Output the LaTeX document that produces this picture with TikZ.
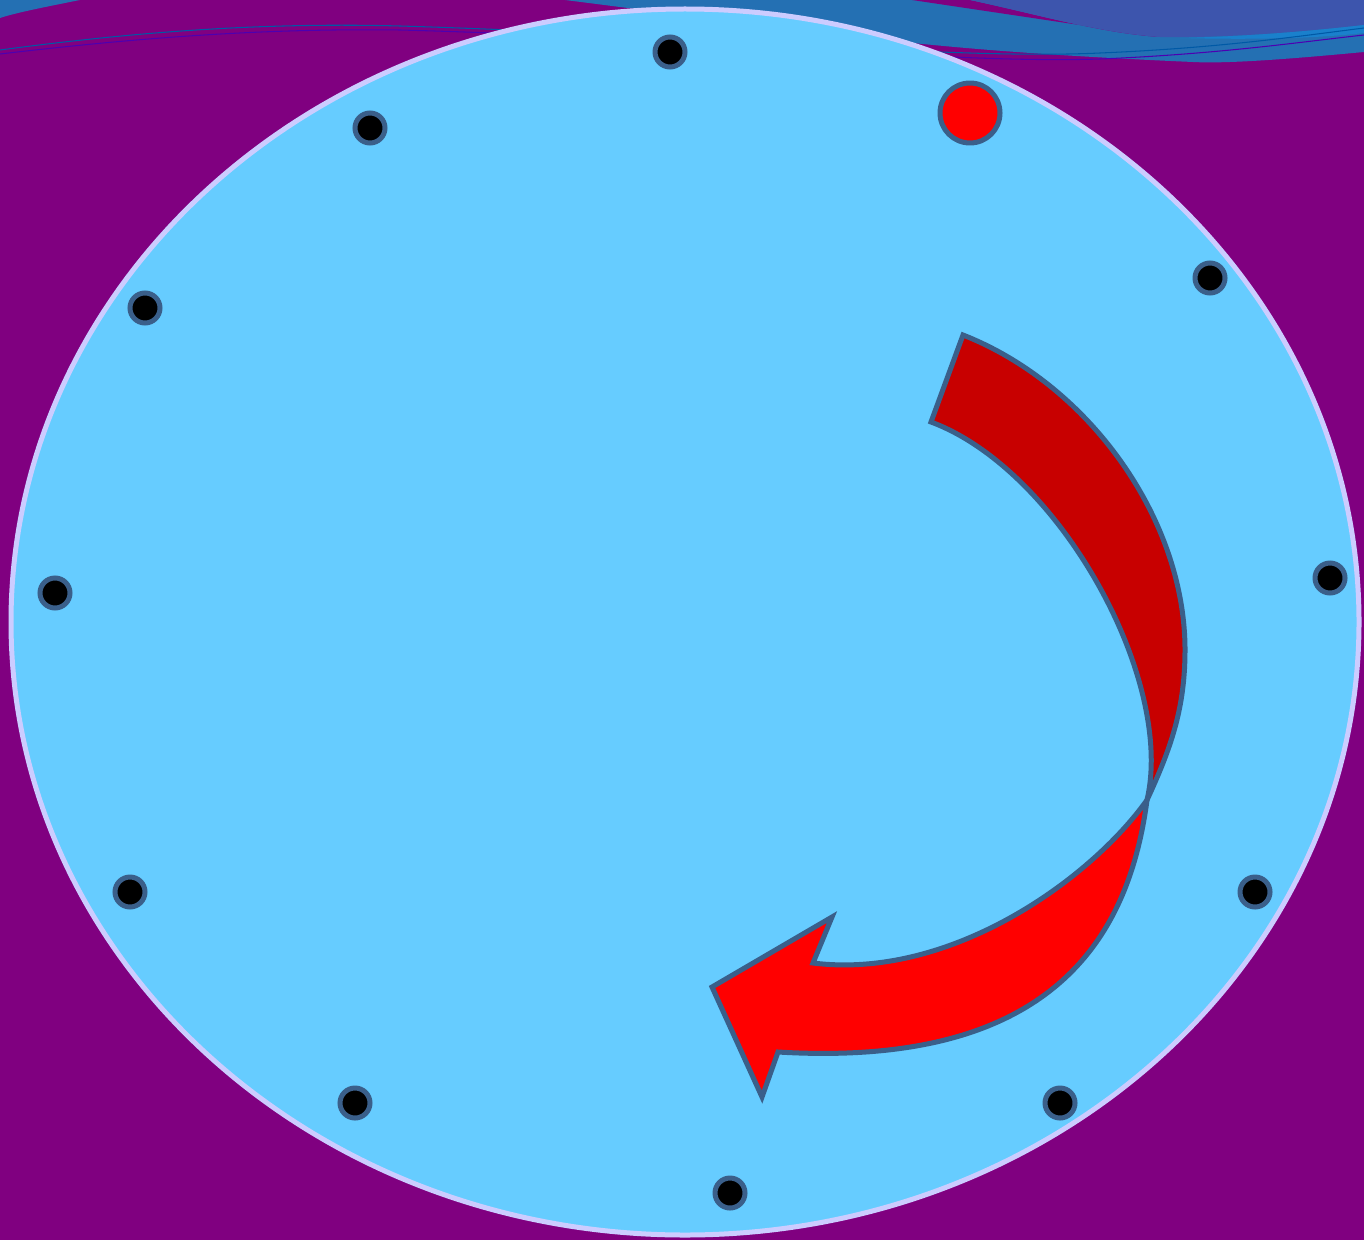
\documentclass[tikz,border=0pt]{standalone}
\usepackage{xcolor}
\usepackage{tikz}
\usetikzlibrary{shapes,arrows,positioning,calc}

\definecolor{plum}{HTML}{800080}
\definecolor{dial}{HTML}{66CCFF}
\definecolor{rim}{HTML}{CCCCFF}
\definecolor{edge}{HTML}{3A5F8A}
\definecolor{darkred}{HTML}{C80000}
\definecolor{wave}{HTML}{2470B3}
\definecolor{wavetop}{HTML}{3D55AD}
\definecolor{wavelight}{HTML}{1A80CC}

\begin{document}
\begin{tikzpicture}[
    x=0.02cm, y=-0.02cm,
    dot/.style={circle, minimum size=0.6cm, inner sep=0pt, draw=edge, line width=0.1cm, fill=black},
    reddot/.style={circle, minimum size=1.2cm, inner sep=0pt, draw=edge, line width=0.1cm, fill=red},
    ribbon/.style={draw=edge, line width=0.1cm, line join=miter}
]

% page and background
\useasboundingbox (0,0) rectangle (1364,1240);
\fill[plum] (0,0) rectangle (1364,1240);

% waves at the top
\fill[wave] (0,0) -- (80,0) .. controls (40,8) and (15,13) .. (0,18) -- cycle;
\fill[wave] (565,0) -- (1364,0) -- (1364,52) .. controls (1300,58) and (1230,64) .. (1193,62)
    .. controls (1100,58) and (1000,52) .. (913,43) .. controls (780,28) and (660,12) .. (565,0) -- cycle;
\fill[plum] (912,0) -- (970,0) .. controls (1040,15) and (1100,33) .. (1160,37) -- cycle;
\fill[wavetop] (970,0) -- (1364,0) -- (1364,25) .. controls (1300,32) and (1230,38) .. (1160,37)
    .. controls (1100,33) and (1040,15) .. (970,0) -- cycle;
\fill[wavelight] (1180,38) .. controls (1260,36) and (1320,30) .. (1364,25) -- (1364,33)
    .. controls (1320,38) and (1260,40) .. (1180,38) -- cycle;
\draw[teal!70!blue, line width=0.6pt] (0,50) .. controls (120,34) and (250,22) .. (400,26)
    .. controls (700,35) and (950,60) .. (1100,53) .. controls (1220,48) and (1300,36) .. (1364,28);
\draw[blue!40!violet, line width=0.6pt] (0,54) .. controls (120,40) and (250,28) .. (400,30)
    .. controls (700,38) and (950,64) .. (1100,59) .. controls (1220,54) and (1300,42) .. (1364,35);

% dial
\draw[fill=dial, draw=rim, line width=0.1cm] (685,622) ellipse [x radius=674, y radius=613];

% dots round the dial
\node[dot] (d12) at (670,52) {};
\node[dot] (d1) at (1210,278) {};
\node[dot] (d2) at (1330,578) {};
\node[dot] (d3) at (1255,892) {};
\node[dot] (d4) at (1060,1103) {};
\node[dot] (d5) at (730,1193) {};
\node[dot] (d6) at (355,1103) {};
\node[dot] (d7) at (130,892) {};
\node[dot] (d8) at (55,593) {};
\node[dot] (d9) at (145,308) {};
\node[dot] (d10) at (370,128) {};
\node[reddot] (start) at (970,113) {};

% curved arrow, back part
\draw[ribbon, fill=darkred] (963,335) .. controls (1090,385) and (1185,520) .. (1185,650)
    .. controls (1185,710) and (1170,750) .. (1147,800)
    .. controls (1175,680) and (1060,470) .. (931,422) -- cycle;
% curved arrow, front part
\draw[ribbon, fill=red] (1147,800) .. controls (1128,945) and (1045,1068) .. (778,1052)
    -- (762,1097) -- (712,987) -- (832,917) -- (813,963)
    .. controls (950,980) and (1090,880) .. (1147,800) -- cycle;

\end{tikzpicture}
\end{document}
